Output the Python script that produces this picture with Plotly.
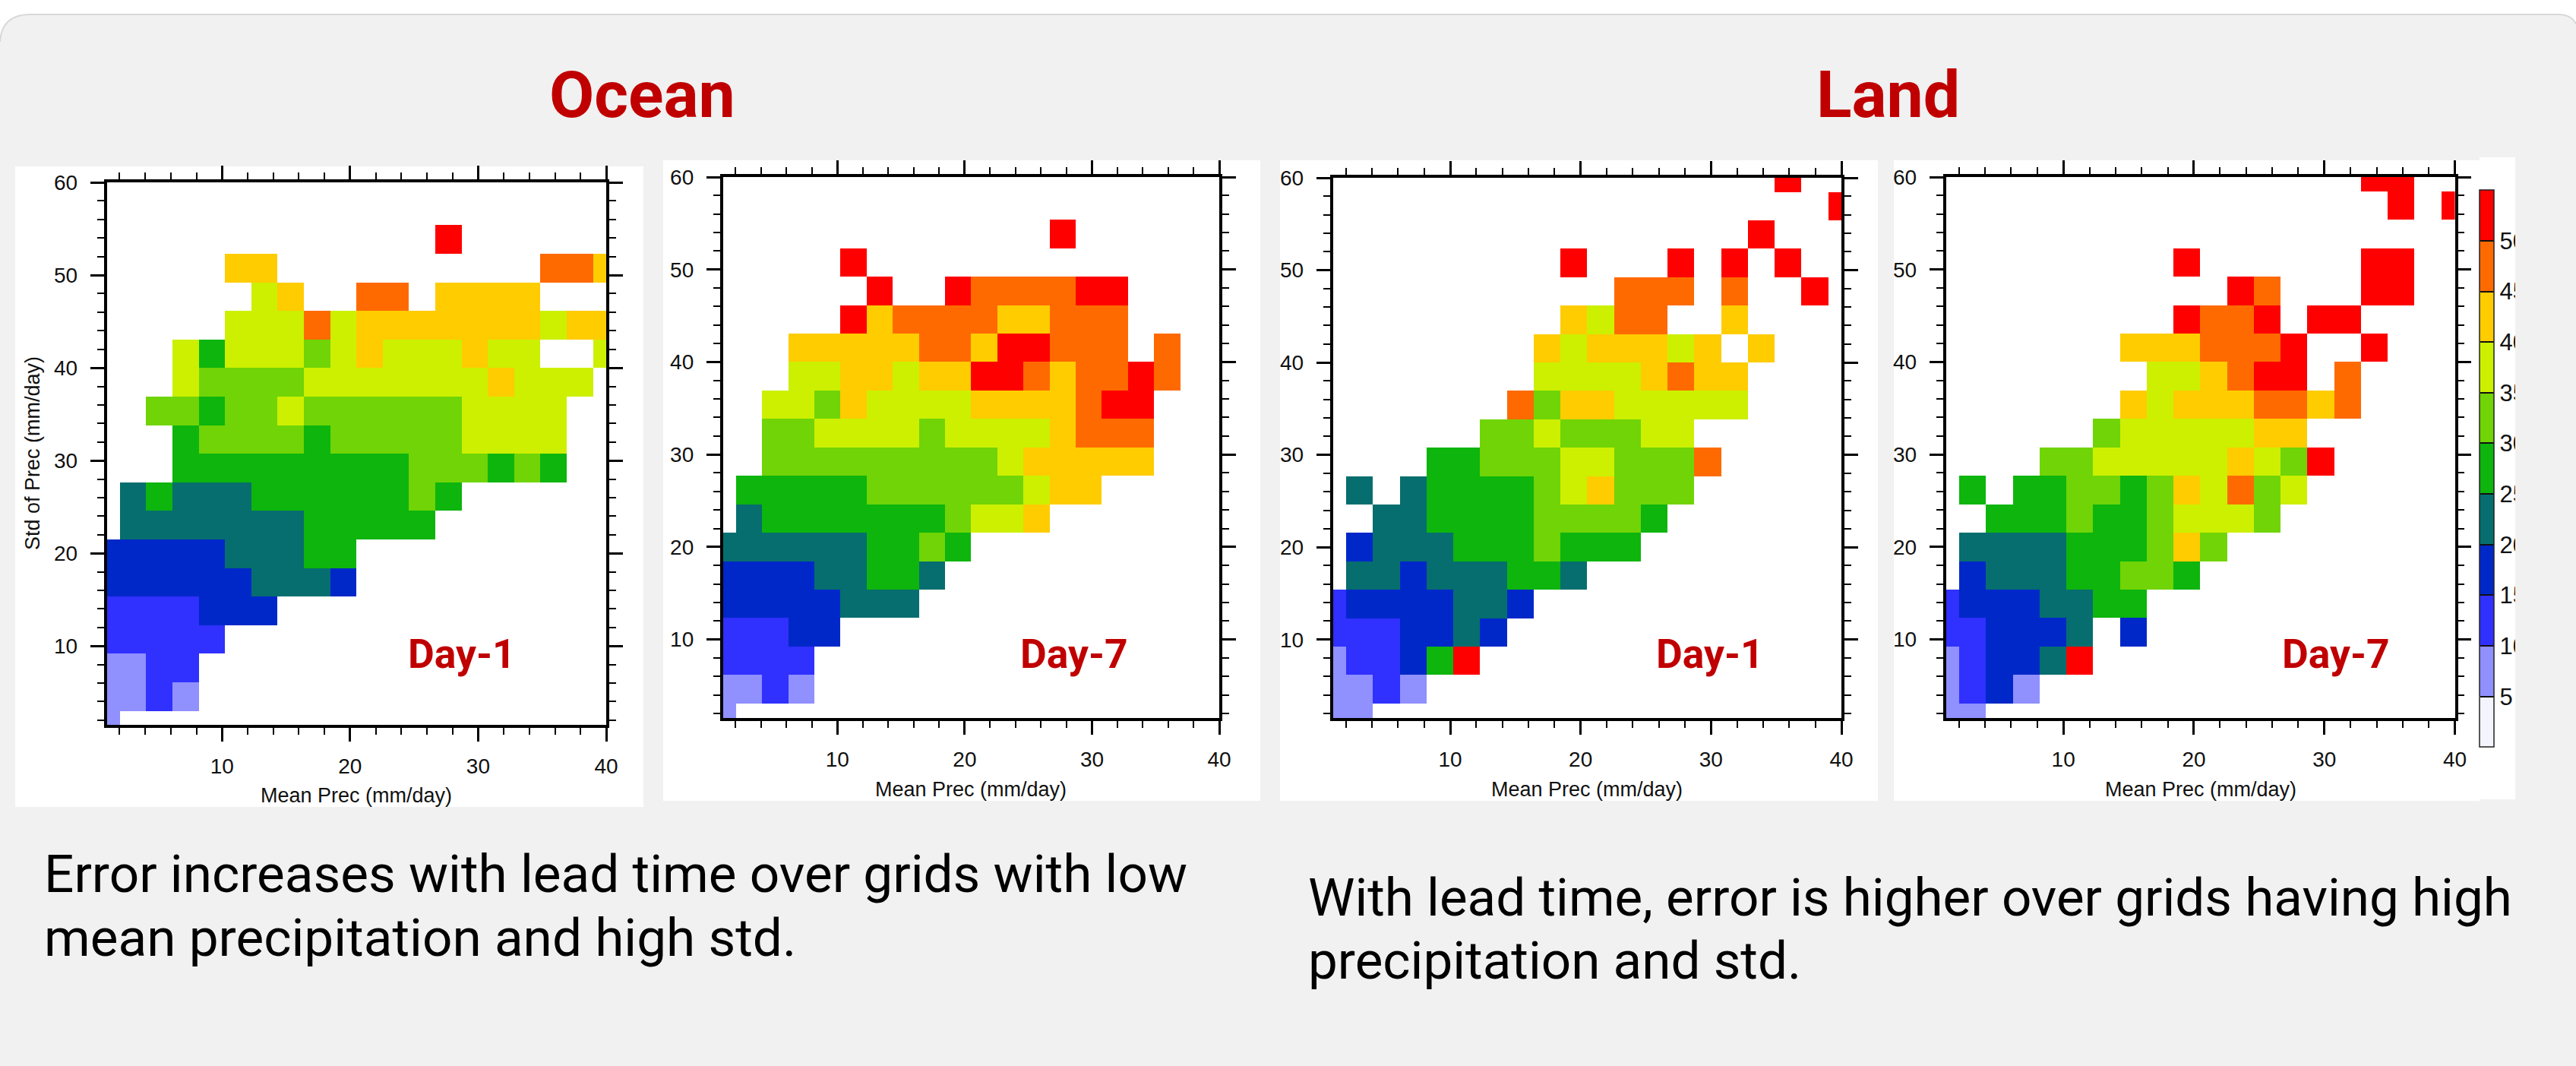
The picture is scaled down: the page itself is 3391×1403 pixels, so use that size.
import plotly.graph_objects as go

W, H = 3391, 1403
_ = None

mean_prec = [1 + 39 * k / 19 for k in range(20)]
std_prec = [1.5 + 58.5 * k / 19 for k in range(20)]

# Rows run from the lowest std bin upward; every value is the middle of its error class.
ocean_day1 = [
    [7] + [_]*19,
    [7, 7, 12, 7] + [_]*16,
    [7, 7, 12, 12] + [_]*16,
    [12, 12, 12, 12, 12] + [_]*15,
    [12, 12, 12, 12, 17, 17, 17] + [_]*13,
    [17, 17, 17, 17, 17, 17, 22, 22, 22, 17] + [_]*10,
    [17, 17, 17, 17, 17, 22, 22, 22, 27, 27] + [_]*10,
    [_, 22, 22, 22, 22, 22, 22, 22, 27, 27, 27, 27, 27] + [_]*7,
    [_, 22, 27, 22, 22, 22, 27, 27, 27, 27, 27, 27, 32, 27] + [_]*6,
    [_, _, _, 27, 27, 27, 27, 27, 27, 27, 27, 27, 32, 32, 32, 27, 32, 27, _, _],
    [_, _, _, 27, 32, 32, 32, 32, 27, 32, 32, 32, 32, 32, 37, 37, 37, 37, _, _],
    [_, _, 32, 32, 27, 32, 32, 37, 32, 32, 32, 32, 32, 32, 37, 37, 37, 37, _, _],
    [_, _, _, 37, 32, 32, 32, 32, 37, 37, 37, 37, 37, 37, 37, 42, 37, 37, 37, _],
    [_, _, _, 37, 27, 37, 37, 37, 32, 37, 42, 37, 37, 37, 42, 37, 37, _, _, 37],
    [_, _, _, _, _, 37, 37, 37, 47, 37, 42, 42, 42, 42, 42, 42, 42, 37, 42, 42],
    [_, _, _, _, _, _, 37, 42, _, _, 47, 47, _, 42, 42, 42, 42, _, _, _],
    [_, _, _, _, _, 42, 42, _, _, _, _, _, _, _, _, _, _, 47, 47, 42],
    [_]*13 + [52] + [_]*6,
    [_]*20,
    [_]*20,
]

ocean_day7 = [
    [7] + [_]*19,
    [7, 7, 12, 7] + [_]*16,
    [12, 12, 12, 12] + [_]*16,
    [12, 12, 12, 17, 17] + [_]*15,
    [17, 17, 17, 17, 17, 22, 22, 22] + [_]*12,
    [17, 17, 17, 17, 22, 22, 27, 27, 22] + [_]*11,
    [22, 22, 22, 22, 22, 22, 27, 27, 32, 27] + [_]*10,
    [_, 22, 27, 27, 27, 27, 27, 27, 27, 32, 37, 37, 42] + [_]*7,
    [_, 27, 27, 27, 27, 27, 32, 32, 32, 32, 32, 32, 37, 42, 42] + [_]*5,
    [_, _, 32, 32, 32, 32, 32, 32, 32, 32, 32, 37, 42, 42, 42, 42, 42] + [_]*3,
    [_, _, 32, 32, 37, 37, 37, 37, 32, 37, 37, 37, 37, 42, 47, 47, 47] + [_]*3,
    [_, _, 37, 37, 32, 42, 37, 37, 37, 37, 42, 42, 42, 42, 47, 52, 52] + [_]*3,
    [_, _, _, 37, 37, 42, 42, 37, 42, 42, 52, 52, 47, 42, 47, 47, 52, 47, _, _],
    [_, _, _, 42, 42, 42, 42, 42, 47, 47, 42, 52, 52, 47, 47, 47, _, 47, _, _],
    [_, _, _, _, _, 52, 42, 47, 47, 47, 47, 42, 42, 47, 47, 47] + [_]*4,
    [_, _, _, _, _, _, 52, _, _, 52, 47, 47, 47, 47, 52, 52] + [_]*4,
    [_]*5 + [52] + [_]*14,
    [_]*13 + [52] + [_]*6,
    [_]*20,
    [_]*20,
]

land_day1 = [
    [7, 7] + [_]*18,
    [7, 7, 12, 7] + [_]*16,
    [7, 12, 12, 17, 27, 52] + [_]*14,
    [12, 12, 12, 17, 17, 22, 17] + [_]*13,
    [12, 17, 17, 17, 17, 22, 22, 17] + [_]*12,
    [_, 22, 22, 17, 22, 22, 22, 27, 27, 22] + [_]*10,
    [_, 17, 22, 22, 22, 27, 27, 27, 32, 27, 27, 27] + [_]*8,
    [_, _, 22, 22, 27, 27, 27, 27, 32, 32, 32, 32, 27] + [_]*7,
    [_, 22, _, 22, 27, 27, 27, 27, 32, 37, 42, 32, 32, 32] + [_]*6,
    [_, _, _, _, 27, 27, 32, 32, 32, 37, 37, 32, 32, 32, 47] + [_]*5,
    [_]*6 + [32, 32, 37, 32, 32, 32, 37, 37] + [_]*6,
    [_]*7 + [47, 32, 42, 42, 37, 37, 37, 37, 37] + [_]*4,
    [_]*8 + [37, 37, 37, 37, 42, 47, 42, 42] + [_]*4,
    [_]*8 + [42, 37, 42, 42, 42, 37, 42, _, 42] + [_]*3,
    [_]*9 + [42, 37, 47, 47, _, _, 42] + [_]*4,
    [_]*11 + [47, 47, 47, _, 47, _, _, 52, _],
    [_]*9 + [52, _, _, _, 52, _, 52, _, 52, _, _],
    [_]*16 + [52] + [_]*3,
    [_]*19 + [52],
    [_]*17 + [52, _, _],
]

land_day7 = [
    [7, 7] + [_]*18,
    [7, 12, 17, 7] + [_]*16,
    [7, 12, 17, 17, 22, 52] + [_]*14,
    [12, 12, 17, 17, 17, 22, _, 17] + [_]*12,
    [12, 17, 17, 17, 22, 22, 27, 27] + [_]*12,
    [_, 17, 22, 22, 22, 27, 27, 32, 32, 27] + [_]*10,
    [_, 22, 22, 22, 22, 27, 27, 27, 32, 42, 32] + [_]*9,
    [_, _, 27, 27, 27, 32, 27, 27, 32, 37, 37, 37, 32] + [_]*7,
    [_, 27, _, 27, 27, 32, 32, 27, 32, 42, 37, 47, 32, 37] + [_]*6,
    [_, _, _, _, 32, 32, 37, 37, 37, 37, 37, 42, 37, 32, 52] + [_]*5,
    [_]*6 + [32, 37, 37, 37, 37, 37, 42, 42] + [_]*6,
    [_]*7 + [42, 37, 42, 42, 42, 47, 47, 42, 47] + [_]*4,
    [_]*8 + [37, 37, 42, 47, 52, 52, _, 47] + [_]*4,
    [_]*7 + [42, 42, 42, 47, 47, 47, 52, _, _, 52] + [_]*3,
    [_]*9 + [52, 47, 47, 52, _, 52, 52] + [_]*4,
    [_]*11 + [52, 47, _, _, _, 52, 52, _, _],
    [_]*9 + [52] + [_]*6 + [52, 52, _, _],
    [_]*20,
    [_]*17 + [52, _, 52],
    [_]*16 + [52, 52, _, _],
]

class_edges = [0, 5, 10, 15, 20, 25, 30, 35, 40, 45, 50, 55]
class_colors = ["#f4f4ff", "#9090ff", "#3030ff", "#0028c8", "#066e6e", "#0db50d",
                "#70d406", "#ccf000", "#ffcc00", "#ff6a00", "#ff0000"]
colorbar_ticks = [5, 10, 15, 20, 25, 30, 35, 40, 45, 50]
x_ticks = [10, 20, 30, 40]
y_ticks = [10, 20, 30, 40, 50, 60]

panel_series = [ocean_day1, ocean_day7, land_day1, land_day7]
panel_labels = ["Day-1", "Day-7", "Day-1", "Day-7"]
panel_rects = [(140.5, 798, 240, 954), (951.6, 1605, 233, 945),
               (1754.5, 2424, 234, 945), (2561.5, 3231.6, 233, 945)]
white_rects = [(20, 847, 219, 1062), (873, 1659, 211, 1054),
               (1685, 2472, 211, 1054), (2493, 3264, 211, 1054),
               (3264, 3311, 207, 1052)]
label_pos = [(608, 860), (1414, 860), (2251, 860), (3075, 860)]

RED = "#c00000"
BG = "#f1f1f1"
AXFONT = "Liberation Sans"
LINE = "#000000"


def px(x):
    return x / W


def py(y):
    return 1 - y / H


scale = []
for k, c in enumerate(class_colors):
    scale.append([(class_edges[k] - class_edges[0]) / 55, c])
    scale.append([(class_edges[k + 1] - class_edges[0]) / 55, c])

fig = go.Figure()

top_edge = (f"M0,{py(55)} Q{px(2)},{py(19)} {px(40)},{py(19)} "
            f"L{px(3366)},{py(19)} Q{px(3386)},{py(19)} 1,{py(32)}")
shapes = [
    dict(type="path", xref="paper", yref="paper", layer="below",
         path=top_edge + f" L1,1 L1,0 L0,0 Z".replace("L1,1 ", ""),
         fillcolor=BG, line=dict(width=0)),
    dict(type="path", xref="paper", yref="paper", layer="below",
         path=top_edge, line=dict(color="#d8d8d8", width=2)),
]
for x0, x1, y0, y1 in white_rects:
    shapes.append(dict(type="rect", xref="paper", yref="paper", layer="below",
                       x0=px(x0), x1=px(x1), y0=py(y1), y1=py(y0),
                       fillcolor="white", line=dict(width=0)))

annotations = []


def note(text, x, y, size, family="Roboto", color="#000000", bold=False, xanchor="left", angle=0):
    annotations.append(dict(
        text=f"<b>{text}</b>" if bold else text,
        x=px(x), y=py(y), xref="paper", yref="paper", xanchor=xanchor, yanchor="middle",
        showarrow=False, textangle=angle, font=dict(family=family, size=size, color=color)))


for i, (z, (x0, x1, y0, y1)) in enumerate(zip(panel_series, panel_rects)):
    assert len(z) == 20 and all(len(r) == 20 for r in z)
    n = "" if i == 0 else str(i + 1)
    fig.add_trace(go.Heatmap(
        x=mean_prec, y=std_prec, z=z, coloraxis="coloraxis",
        xaxis=f"x{n}", yaxis=f"y{n}", hoverongaps=False))
    common = dict(
        showgrid=False, zeroline=False, showline=True, linecolor=LINE, linewidth=3.5,
        mirror="allticks", ticks="outside", ticklen=18, tickwidth=3, tickcolor=LINE,
        tickfont=dict(family=AXFONT, size=28, color="#111111"),
        minor=dict(tickmode="linear", tick0=0, dtick=2, ticks="outside", ticklen=9,
                   tickwidth=1.5, tickcolor=LINE, showgrid=False))
    fig.update_layout({
        f"xaxis{n}": dict(domain=[px(x0), px(x1)], range=[1, 40], anchor=f"y{n}",
                          tickmode="array", tickvals=x_ticks, ticklabelstandoff=9, **common),
        f"yaxis{n}": dict(domain=[py(y1), py(y0)], range=[1.5, 60], anchor=f"x{n}",
                          tickmode="array", tickvals=y_ticks, ticklabelstandoff=11, **common),
    })
    note("Mean Prec (mm/day)", (x0 + x1) / 2, 1047 if i == 0 else 1039, 27, AXFONT, "#111111", xanchor="center")
    note(panel_labels[i], label_pos[i][0], label_pos[i][1], 53.5, color=RED, bold=True, xanchor="center")

note("Std of Prec (mm/day)", 43, 597, 27, AXFONT, "#111111", xanchor="center", angle=-90)
note("Ocean", 845, 125, 86, color=RED, bold=True, xanchor="center")
note("Land", 2485, 125, 86, color=RED, bold=True, xanchor="center")
note("Error increases with lead time over grids with low", 56, 1150, 69.3)
note("mean precipitation and high std.", 56, 1234, 69.3)
note("With lead time, error is higher over grids having high", 1720, 1181, 69.2)
note("precipitation and std.", 1720, 1264, 69.2)
# page colour hiding the colour-bar labels past the edge of the pasted image
annotations.append(dict(text=" ", x=px(3311), y=py(640), xref="paper", yref="paper",
                        xanchor="left", yanchor="middle", showarrow=False, width=60, height=860,
                        bgcolor=BG, borderpad=0, borderwidth=0))

fig.update_layout(
    width=W, height=H, margin=dict(l=0, r=0, t=0, b=0, autoexpand=False), autosize=False,
    paper_bgcolor="white", plot_bgcolor="white", showlegend=False,
    shapes=shapes, annotations=annotations,
    coloraxis=dict(
        cmin=0, cmax=55, colorscale=scale,
        colorbar=dict(
            x=px(3264), xanchor="left", y=py(983.3), yanchor="bottom",
            lenmode="pixels", len=733.3, thicknessmode="pixels", thickness=18.5,
            xpad=0, ypad=0, outlinecolor="#222222", outlinewidth=1.5,
            tickmode="array", tickvals=colorbar_ticks, ticks="inside", ticklen=18.5,
            tickwidth=2, tickcolor="#111111", bgcolor="rgba(0,0,0,0)",
            tickfont=dict(family="Liberation Sans Narrow, Liberation Sans", size=31, color="#111111"))),
)

fig.write_html("out.html", post_script="document.body.style.margin='0';",
               config=dict(displayModeBar=False))
